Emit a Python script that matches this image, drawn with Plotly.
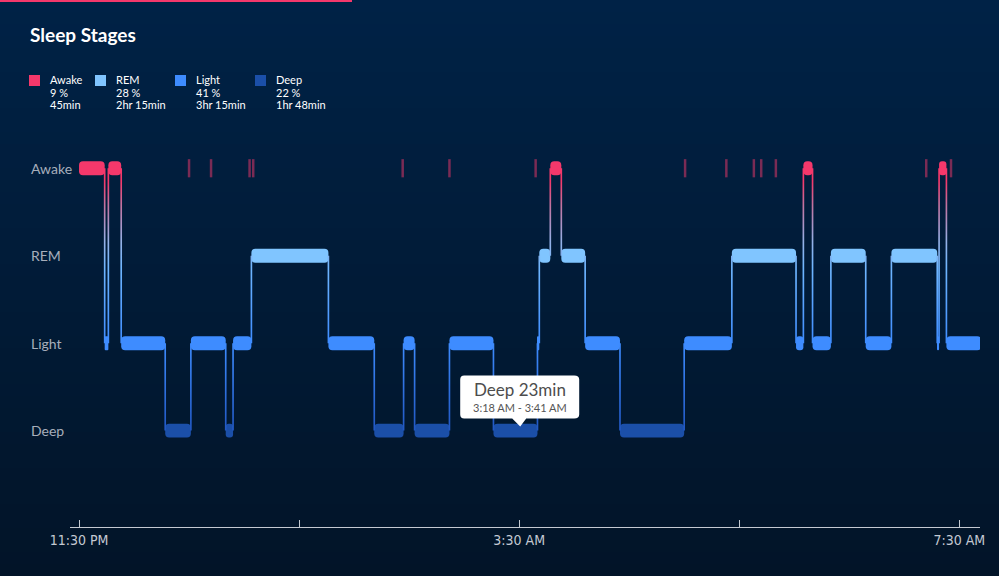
import plotly.graph_objects as go

# hypnogram levels, bottom to top
stage_levels = ["Deep", "Light", "REM", "Awake"]
stage_colors = ["#1b4fa8", "#3e8cff", "#80c5ff", "#f4386b"]

# each segment starts at seg_start[i] in stage seg_stage[i]
seg_start = ["23:30", "23:44", "23:46", "23:53", "00:17", "00:31", "00:50", "00:54", "01:04",
             "01:46", "02:11", "02:27", "02:33", "02:52", "03:16", "03:40", "03:41", "03:47",
             "03:53", "04:06", "04:25", "05:00", "05:26", "06:01", "06:05", "06:10", "06:20",
             "06:39", "06:53", "07:18", "07:19", "07:23"]
seg_stage = ["Awake", "Light", "Awake", "Light", "Deep", "Light", "Deep", "Light", "REM",
             "Light", "Deep", "Light", "Deep", "Light", "Deep", "Light", "REM", "Awake",
             "REM", "Light", "Deep", "Light", "REM", "Light", "Awake", "Light", "REM",
             "Light", "REM", "Light", "Awake", "Light"]
sleep_end = "07:42"

# short wake-ups drawn as thin marks on the Awake row
brief_wake = ["00:30", "00:42", "01:03", "01:05", "02:26:30", "02:52", "03:39", "05:00:30",
              "05:23", "05:38", "05:42", "05:50", "07:12", "07:25:30"]

tick_times = ["23:30", "01:30", "03:30", "05:30", "07:30"]
tick_labels = ["11:30 PM", "", "3:30 AM", "", "7:30 AM"]

legend_names = ["Awake", "REM", "Light", "Deep"]
legend_pct = ["9 %", "28 %", "41 %", "22 %"]
legend_dur = ["45min", "2hr 15min", "3hr 15min", "1hr 48min"]

tip_stage = "Deep"
tip_title = "Deep 23min"
tip_from = "03:18"
tip_to = "03:41"
tip_range = "3:18 AM - 3:41 AM"


def to_min(s):
    # minutes after 11:30 PM
    parts = [int(p) for p in s.split(":")]
    h, m = parts[0], parts[1]
    sec = parts[2] if len(parts) > 2 else 0
    t = h * 60 + m + sec / 60
    if h >= 12:
        t -= 24 * 60
    return t + 30


W, H = 999, 576
PL, PR, PT, PB = 70, 19, 140, 49
pw, ph = W - PL - PR, H - PT - PB


def px_x(px):
    return (px - PL) / pw


def px_y(py):
    return (H - PB - py) / ph


level_of = {s: i for i, s in enumerate(stage_levels)}
color_of = dict(zip(stage_levels, stage_colors))

starts = [to_min(s) for s in seg_start]
ends = starts[1:] + [to_min(sleep_end)]
levels = [level_of[s] for s in seg_stage]
colors = [color_of[s] for s in seg_stage]

fig = go.Figure()

# vertical connectors between stages, vertical gradient fill
cx, cy = [], []
hw = 0.45
for i in range(1, len(starts)):
    t = starts[i]
    lo, hi = sorted([levels[i - 1], levels[i]])
    cx += [t - hw, t + hw, t + hw, t - hw, t - hw, None]
    cy += [lo, lo, hi, hi, lo, None]
fig.add_trace(go.Scatter(
    x=cx, y=cy, mode="lines", fill="toself", line=dict(width=0),
    fillgradient=dict(type="vertical", start=0, stop=3,
                      colorscale=[[0, "#2157c2"], [0.333, "#3e8cff"], [0.62, "#6fb6ff"],
                                  [0.72, "#95b1e6"], [0.86, "#c2729f"], [0.95, "#f4386b"],
                                  [1, "#f4386b"]]),
    hoverinfo="skip", showlegend=False,
))

# stage bars
fig.add_trace(go.Bar(
    orientation="h", y=levels, base=starts,
    x=[e - s for s, e in zip(starts, ends)],
    width=0.16, marker=dict(color=colors, cornerradius=4, line=dict(width=0)),
    cliponaxis=False, hoverinfo="skip", showlegend=False,
))

fig.add_trace(go.Scatter(
    x=[to_min(t) for t in brief_wake], y=[level_of["Awake"]] * len(brief_wake),
    mode="markers",
    marker=dict(symbol="line-ns", size=13, line=dict(width=2.5, color="rgba(244,56,107,0.5)")),
    hoverinfo="skip", showlegend=False, cliponaxis=False,
))

shapes = []
# background gradient in bands
top_c, bot_c = (0, 34, 70), (2, 20, 40)
nb = 48
for k in range(nb):
    f = k / (nb - 1)
    c = tuple(round(a + (b - a) * f) for a, b in zip(top_c, bot_c))
    shapes.append(dict(type="rect", xref="paper", yref="paper", layer="below",
                       x0=px_x(0), x1=px_x(W), y0=px_y(H * (k + 1) / nb + 1), y1=px_y(H * k / nb),
                       fillcolor="rgb(%d,%d,%d)" % c, line=dict(width=0)))
# pink tab indicator
shapes.append(dict(type="rect", xref="paper", yref="paper", layer="above",
                   x0=px_x(0), x1=px_x(352), y0=px_y(2), y1=px_y(-1),
                   fillcolor="#f4386b", line=dict(width=0)))

annotations = [dict(text="<b>Sleep Stages</b>", xref="paper", yref="paper",
                    x=px_x(28), y=px_y(35), xanchor="left", yanchor="middle", showarrow=False,
                    font=dict(family="Lato", size=19, color="white"))]

# legend
col_x = [29, 95, 175, 255]
for cx0, name, pct, dur in zip(col_x, legend_names, legend_pct, legend_dur):
    shapes.append(dict(type="rect", xref="paper", yref="paper", layer="above",
                       x0=px_x(cx0), x1=px_x(cx0 + 11), y0=px_y(86), y1=px_y(75),
                       fillcolor=color_of[name], line=dict(width=0)))
    for j, line in enumerate([name, pct, dur]):
        annotations.append(dict(text=line, xref="paper", yref="paper",
                                x=px_x(cx0 + 19), y=px_y(80 + 12 * j), xanchor="left",
                                yanchor="middle", showarrow=False,
                                font=dict(family="Lato", size=11, color="white")))

# y labels, left aligned
for i, name in enumerate(stage_levels):
    annotations.append(dict(text=name, xref="paper", yref="y", x=px_x(29), y=i,
                            xanchor="left", yanchor="middle", showarrow=False,
                            font=dict(family="Lato", size=14, color="#a7aebb")))

# tooltip callout anchored on the selected segment
tip_x = (to_min(tip_from) + to_min(tip_to)) / 2
tip_y = level_of[tip_stage]
shapes.append(dict(
    type="path", xref="x", yref="y", xsizemode="pixel", ysizemode="pixel",
    xanchor=tip_x, yanchor=tip_y, layer="above",
    path="M -54,12 L -6,12 L 2,4 L 8,12 L 56,12 Q 61,12 61,16 L 61,51 Q 61,55 56,55 "
         "L -54,55 Q -58,55 -58,51 L -58,16 Q -58,12 -54,12 Z",
    fillcolor="white", line=dict(width=0)))
annotations.append(dict(text=tip_title, x=tip_x, y=tip_y, xref="x", yref="y", yshift=41,
                        xshift=2, showarrow=False,
                        font=dict(family="Lato", size=17, color="#4d4d4d")))
annotations.append(dict(text=tip_range, x=tip_x, y=tip_y, xref="x", yref="y", yshift=23,
                        xshift=2, showarrow=False,
                        font=dict(family="Lato", size=11, color="#555555")))

fig.update_layout(
    width=W, height=H, margin=dict(l=PL, r=PR, t=PT, b=PB),
    paper_bgcolor="#011a34", plot_bgcolor="rgba(0,0,0,0)",
    barmode="overlay", showlegend=False,
    shapes=shapes, annotations=annotations,
    xaxis=dict(range=[to_min("23:25:05"), to_min("07:41:19")],
               tickvals=[to_min(t) for t in tick_times], ticktext=tick_labels,
               showgrid=False, zeroline=False, showline=True, linecolor="#c4c9d2", linewidth=1,
               ticks="inside", ticklen=7, tickcolor="#c4c9d2", tickwidth=1,
               tickfont=dict(family="Liberation Sans Narrow, DejaVu Sans Condensed, Roboto, sans-serif",
                             size=14, color="#c4c9d2")),
    yaxis=dict(range=[-1.102, 3.323], showgrid=False, zeroline=False, showline=False,
               showticklabels=False, ticks=""),
)

fig.write_html("out.html", config={"displayModeBar": False},
               post_script="document.body.style.margin='0';")
